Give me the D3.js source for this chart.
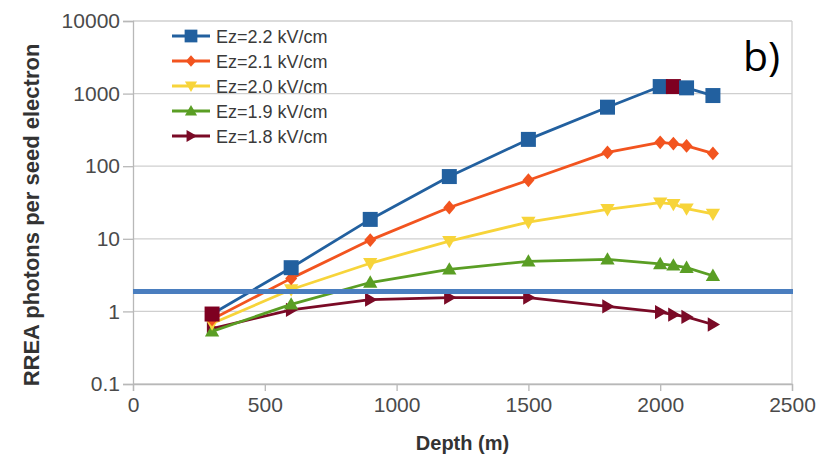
<!DOCTYPE html>
<html>
<head>
<meta charset="utf-8">
<script src="https://cdn.jsdelivr.net/npm/d3@7"></script>
<style>
  html, body { margin: 0; padding: 0; background: #ffffff; }
  svg { display: block; }
  text { font-family: "Liberation Sans", Arial, sans-serif; }
</style>
</head>
<body>
<svg id="chart" width="828" height="455"></svg>
<script>
// ---- data ----
const depths = [300, 600, 900, 1200, 1500, 1800, 2000, 2050, 2100, 2200];
const seriesNames = ["Ez=2.2 kV/cm", "Ez=2.1 kV/cm", "Ez=2.0 kV/cm", "Ez=1.9 kV/cm", "Ez=1.8 kV/cm"];
const ez22 = [0.92, 4.0, 18.5, 72, 234, 650, 1250, 1250, 1200, 940];
const ez21 = [0.78, 2.85, 9.6, 27, 64, 155, 213, 205, 190, 150];
const ez20 = [0.68, 2.0, 4.6, 9.3, 17, 25.5, 31.5, 30, 26, 22];
const ez19 = [0.53, 1.25, 2.5, 3.8, 4.9, 5.2, 4.5, 4.3, 4.0, 3.1];
const ez18 = [0.58, 1.05, 1.45, 1.55, 1.55, 1.17, 0.98, 0.9, 0.84, 0.66];
const highlightIdx22 = [0, 7];      // points of the 2.2 kV/cm series drawn in dark red
const thresholdValue = 1.88;        // horizontal blue reference line
const xTicks = [0, 500, 1000, 1500, 2000, 2500];
const yTicks = [0.1, 1, 10, 100, 1000, 10000];
const yTickLabels = ["0.1", "1", "10", "100", "1000", "10000"];
const panelLabel = "b)";
const xTitle = "Depth (m)";
const yTitle = "RREA photons per seed electron";

// ---- styles ----
const colors = ["#22609f", "#f2541f", "#f7d43a", "#5a9e24", "#7a0a26"];
const highlightColor = "#7e0021";
const symbols = ["square", "diamond", "triDown", "triUp", "triRight"];

const svg = d3.select("#chart");
const x = d3.scaleLinear().domain([0, 2500]).range([133, 792]);
const y = d3.scaleLog().domain([0.1, 10000]).range([384, 21]);

// gridlines
svg.append("g").selectAll("line").data(yTicks).join("line")
  .attr("x1", x(0)).attr("x2", x(2500))
  .attr("y1", d => y(d)).attr("y2", d => y(d))
  .attr("stroke", "#cfcfcf").attr("stroke-width", 1.3);
// right border
svg.append("line").attr("x1", x(2500)).attr("x2", x(2500))
  .attr("y1", y(10000)).attr("y2", y(0.1))
  .attr("stroke", "#cfcfcf").attr("stroke-width", 1.3);

// axes
const xAxis = svg.append("g").attr("transform", `translate(0,${y(0.1)})`)
  .call(d3.axisBottom(x).tickValues(xTicks).tickFormat(d3.format("d")).tickSize(7).tickPadding(6));
const yAxis = svg.append("g").attr("transform", `translate(${x(0)},0)`)
  .call(d3.axisLeft(y).tickValues(yTicks).tickFormat((d, i) => yTickLabels[i]).tickSize(10).tickPadding(3));
[xAxis, yAxis].forEach(g => {
  g.select(".domain").attr("stroke", "#b8b8b8").attr("stroke-width", 1.3);
  g.selectAll(".tick line").attr("stroke", "#b8b8b8").attr("stroke-width", 1.3);
  g.selectAll(".tick text").attr("fill", "#4a4a4a").style("font-size", "21px")
    .style("font-family", '"Liberation Sans", Arial, sans-serif');
});

// marker shapes
function markerPath(kind, s) {
  switch (kind) {
    case "square": return `M${-s},${-s}H${s}V${s}H${-s}Z`;
    case "diamond": return `M0,${-s * 1.15}L${s * 1.0},0L0,${s * 1.15}L${-s * 1.0},0Z`;
    case "triUp": return `M0,${-s * 1.1}L${s * 1.1},${s * 0.8}L${-s * 1.1},${s * 0.8}Z`;
    case "triDown": return `M0,${s * 1.1}L${s * 1.1},${-s * 0.8}L${-s * 1.1},${-s * 0.8}Z`;
    case "triRight": return `M${s * 1.1},0L${-s * 0.8},${s * 1.1}L${-s * 0.8},${-s * 1.1}Z`;
  }
}
const markerSize = [7.5, 6, 6.5, 6.5, 6.5];

const allSeries = [ez22, ez21, ez20, ez19, ez18];
const line = d3.line().x(d => x(d[0])).y(d => y(d[1]));

// draw from last series to first so blue lies on top
for (let si = allSeries.length - 1; si >= 0; si--) {
  const pts = depths.map((d, i) => [d, allSeries[si][i]]);
  const g = svg.append("g");
  g.append("path").attr("d", line(pts)).attr("fill", "none")
    .attr("stroke", colors[si]).attr("stroke-width", 2.8).attr("stroke-linejoin", "round");
  g.selectAll("path.m").data(pts).join("path").attr("class", "m")
    .attr("transform", d => `translate(${x(d[0])},${y(d[1])})`)
    .attr("d", markerPath(symbols[si], markerSize[si]))
    .attr("fill", (d, i) => (si === 0 && highlightIdx22.includes(i)) ? highlightColor : colors[si]);
}

// threshold line
svg.append("line").attr("x1", x(0)).attr("x2", x(2500) + 1)
  .attr("y1", y(thresholdValue)).attr("y2", y(thresholdValue))
  .attr("stroke", "#4a7ebf").attr("stroke-width", 5);

// legend
const legend = svg.append("g");
seriesNames.forEach((name, i) => {
  const cy = 36 + i * 25;
  legend.append("line").attr("x1", 172).attr("x2", 210).attr("y1", cy).attr("y2", cy)
    .attr("stroke", colors[i]).attr("stroke-width", 3);
  legend.append("path").attr("transform", `translate(191,${cy})`)
    .attr("d", markerPath(symbols[i], markerSize[i] * 0.85)).attr("fill", colors[i]);
  legend.append("text").attr("x", 216).attr("y", cy + 6.5).text(name)
    .attr("fill", "#3a3a3a").style("font-size", "18px");
});

// titles
svg.append("text").attr("x", (x(0) + x(2500)) / 2).attr("y", 450).attr("text-anchor", "middle")
  .attr("fill", "#333").style("font-size", "20px").style("font-weight", "bold").text(xTitle);
svg.append("text").attr("transform", "translate(39,215) rotate(-90)").attr("text-anchor", "middle")
  .attr("fill", "#333").style("font-size", "22px").style("font-weight", "bold").text(yTitle);

// panel label
svg.append("text").attr("x", 743).attr("y", 71).attr("fill", "#000")
  .style("font-size", "41px").style("font-family", '"Open Sans", "Liberation Sans", sans-serif').text(panelLabel);
</script>
</body>
</html>
